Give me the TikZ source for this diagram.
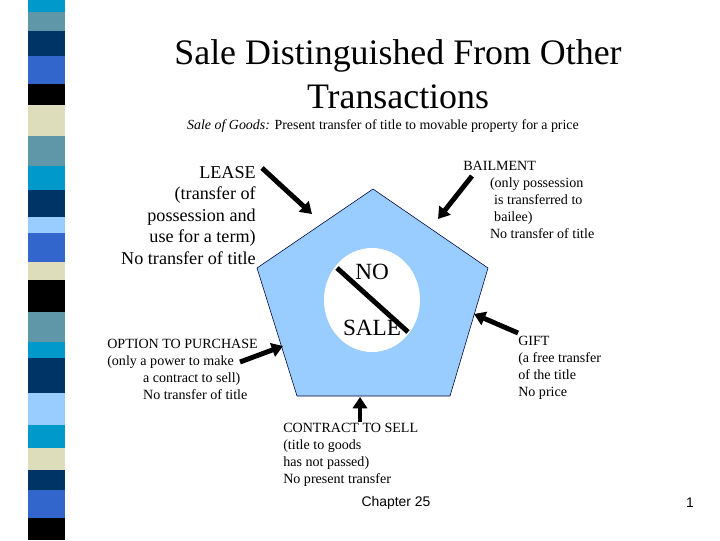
\documentclass[tikz,border=0pt]{standalone}
\usepackage{fontspec}
\setmainfont{Liberation Serif}
\setsansfont{Liberation Sans}
\usetikzlibrary{arrows.meta,shapes.geometric,calc}

\definecolor{stripcyan}{HTML}{0099CC}
\definecolor{stripgrey}{HTML}{5F96A8}
\definecolor{stripnavy}{HTML}{003366}
\definecolor{stripblue}{HTML}{3366CC}
\definecolor{stripbeige}{HTML}{DDDDBB}
\definecolor{striplight}{HTML}{99CCFF}
\definecolor{pentafill}{HTML}{99CCFF}

\begin{document}
\begin{tikzpicture}[x=0.025cm, y=-0.025cm,
    fat/.style={line width=3.5pt, -{Triangle[length=8pt,width=10pt]}},
    big/.style={inner sep=0, align=right, font=\fontsize{12.9}{15.3}\selectfont},
    small/.style={inner sep=0, align=left, font=\fontsize{10}{12.1}\selectfont}]
    \useasboundingbox (0,0) rectangle (720,540);

    % the coloured strip on the left
    \foreach \ya/\yb/\c in {0/12/stripcyan, 12/31/stripgrey, 31/56/stripnavy, 56/84/stripblue,
        84/105/black, 105/136/stripbeige, 136/166/stripgrey, 166/190/stripcyan,
        190/217/stripnavy, 217/233/striplight, 233/262/stripblue, 262/280/stripbeige,
        280/312/black, 312/342/stripgrey, 342/358/stripcyan, 358/393/stripnavy,
        393/425/striplight, 425/448/stripcyan, 448/470/stripbeige, 470/490/stripnavy,
        490/518/stripblue, 518/540/black}{
      \fill [\c] (28,\ya) rectangle (65,\yb);
    }

    % title
    \node [font=\fontsize{25.5}{31}\selectfont, align=center] (title) at (398,74)
        {Sale Distinguished From Other\\Transactions};
    \node [font=\fontsize{9.9}{12}\selectfont] (goods) at (383,126)
        {\textit{Sale of Goods:} Present transfer of title to movable property for a price};

    % the pentagon
    \draw [fill=pentafill, draw=black!80!blue, thin]
        (373,189) -- (488,268) -- (450,396) -- (297,396) -- (257,268) -- cycle;
    \node [ellipse, fill=white, minimum width=2.4cm, minimum height=2.6cm, inner sep=0] (circ) at (372,300) {};
    \node [font=\fontsize{16.5}{18}\selectfont] (no) at (372,272) {NO};
    \node [font=\fontsize{16.5}{18}\selectfont] (sale) at (372,328) {SALE};
    \coordinate (strikea) at (337,268);
    \coordinate (strikeb) at (408,332);
    \draw [line width=3.5pt] (strikea) -- (strikeb);

    % texts round it
    \node [big, anchor=north east] (lease) at (256,166)
        {LEASE\\(transfer of\\possession and\\use for a term)\\No transfer of title};
    \node [small, anchor=north west] (bail) at (463,160.5)
        {BAILMENT\\\hspace*{19pt}(only possession\\\hspace*{22pt}is transferred to\\
         \hspace*{22pt}bailee)\\\hspace*{19pt}No transfer of title};
    \node [small, anchor=north west] (option) at (107,338.5)
        {OPTION TO PURCHASE\\(only a power to make\\\hspace*{25.5pt}a contract to sell)\\
         \hspace*{25.5pt}No transfer of title};
    \node [small, anchor=north west] (gift) at (518,335.5)
        {GIFT\\(a free transfer\\of the title\\No price};
    \node [small, anchor=north west] (contract) at (283,422.5)
        {CONTRACT TO SELL\\(title to goods\\has not passed)\\No present transfer};

    % arrows
    \coordinate (leasetail) at (262,168);
    \coordinate (leasetip) at (312,214);
    \coordinate (bailtail) at (472,176);
    \coordinate (bailtip) at (438,219);
    \coordinate (optiontail) at (240,362);
    \coordinate (optiontip) at (283,346);
    \coordinate (gifttail) at (518,333);
    \coordinate (gifttip) at (474,314);
    \coordinate (contracttail) at (360,422);
    \coordinate (contracttip) at (360,397);
    \draw [fat] (leasetail) -- (leasetip);
    \draw [fat] (bailtail) -- (bailtip);
    \draw [fat] (optiontail) -- (optiontip);
    \draw [fat] (gifttail) -- (gifttip);
    \draw [fat] (contracttail) -- (contracttip);

    % footer
    \node [font=\sffamily\fontsize{9.9}{12}\selectfont] (chapter) at (396,503) {Chapter 25};
    \node [font=\sffamily\fontsize{9.9}{12}\selectfont] (page) at (690,503) {1};
\end{tikzpicture}
\end{document}
